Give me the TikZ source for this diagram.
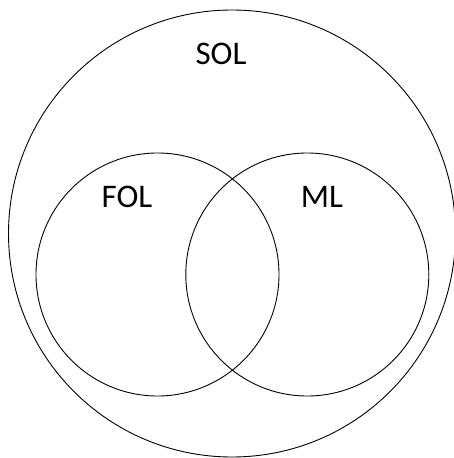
\documentclass[tikz,border=0pt]{standalone}
\usepackage{fontspec}
\setmainfont{Carlito}
\begin{document}
\begin{tikzpicture}[x=1pt,y=-1pt,
  setc/.style={draw=black,line width=0.9pt,circle,inner sep=0pt},
  lbl/.style={font=\fontsize{33}{38}\selectfont,inner sep=0pt}]
\useasboundingbox (0,0) rectangle (454,458);
\node[setc,minimum size=447pt] (sol) at (232,233.5) {};
\node[setc,minimum size=243pt] (fol) at (157.5,274.5) {};
\node[setc,minimum size=243pt] (ml) at (307.3,274.5) {};
\node[lbl] (tsol) at (221,53.5) {SOL};
\node[lbl] (tfol) at (127,197) {FOL};
\node[lbl] (tml) at (322,197) {ML};
\end{tikzpicture}
\end{document}
